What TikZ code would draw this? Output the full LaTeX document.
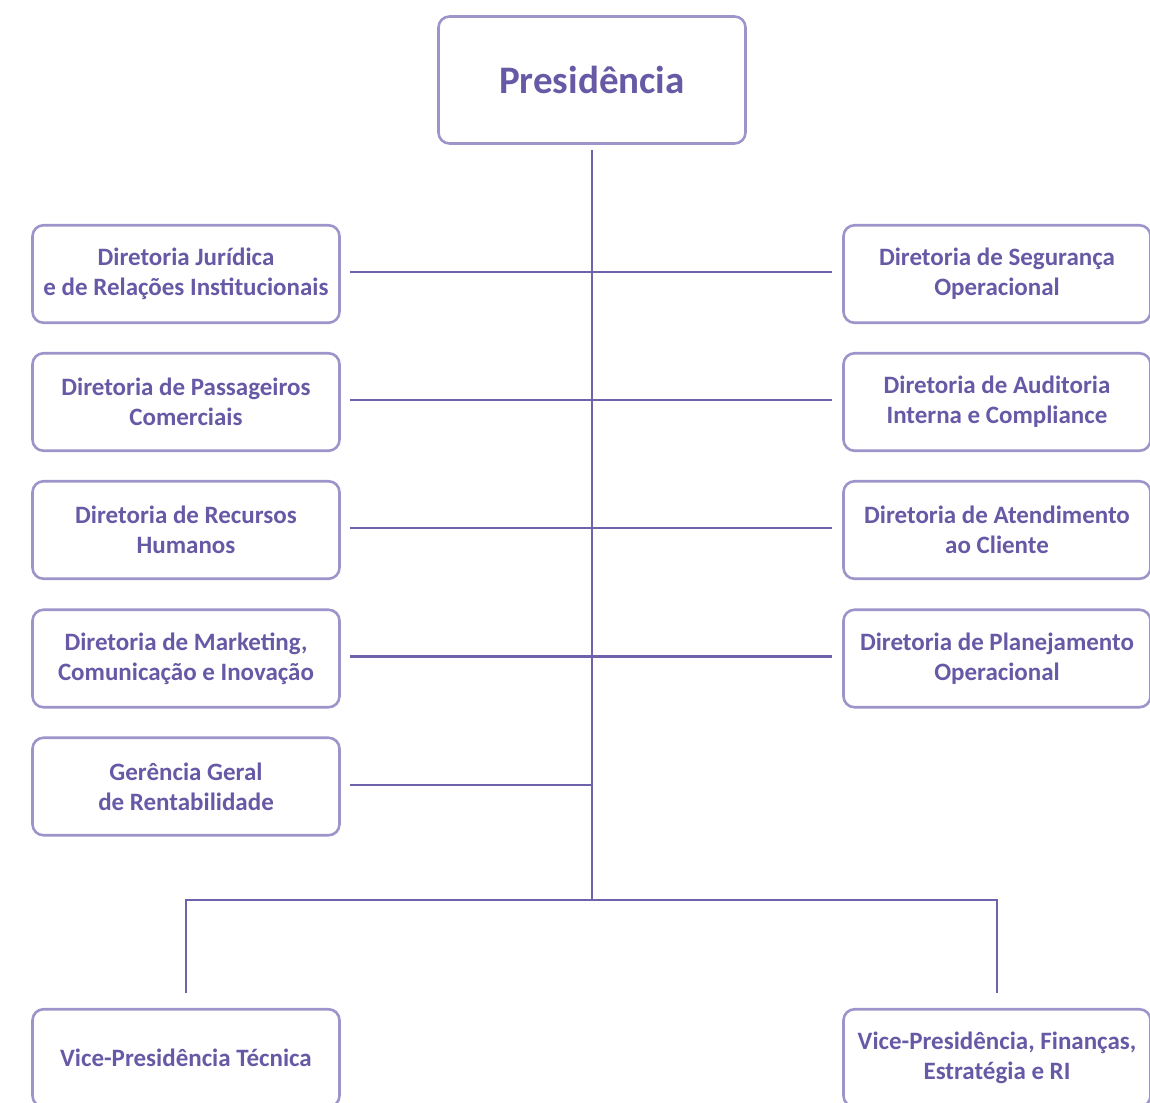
\documentclass[tikz,border=0pt]{standalone}
\usepackage{fontspec}
\setmainfont{Carlito}
\definecolor{txt}{HTML}{6759A5}
\definecolor{bord}{HTML}{9D95CA}
\definecolor{ln}{HTML}{6E62AA}
\begin{document}
\begin{tikzpicture}[x=1pt,y=-1pt,
  box/.style={draw=bord, line width=2.6pt, rounded corners=11pt, text=txt,
    font=\bfseries\fontsize{25}{30}\selectfont, align=center, inner sep=0pt,
    minimum width=307pt, minimum height=97.5pt},
  conn/.style={draw=ln, line width=2.8pt}]
\useasboundingbox (0,0) rectangle (1150,1102);
\node[box, minimum height=127pt, font=\bfseries\fontsize{39}{42}\selectfont] (P) at (592,80) {Presidência};
\node[box] (L1) at (186,274) {Diretoria Jurídica\\e de Relações Institucionais};
\node[box] (L2) at (186,402) {Diretoria de Passageiros\\Comerciais};
\node[box] (L3) at (186,530) {Diretoria de Recursos\\Humanos};
\node[box] (L4) at (186,658.5) {Diretoria de Marketing,\\Comunicação e Inovação};
\node[box] (L5) at (186,786.5) {Gerência Geral\\de Rentabilidade};
\node[box] (R1) at (997,274) {Diretoria de Segurança\\Operacional};
\node[box] (R2) at (997,402) {Diretoria de Auditoria\\Interna e Compliance};
\node[box] (R3) at (997,530) {Diretoria de Atendimento\\ao Cliente};
\node[box] (R4) at (997,658.5) {Diretoria de Planejamento\\Operacional};
\node[box] (V1) at (186,1058) {Vice-Presidência Técnica};
\node[box] (V2) at (997,1058) {Vice-Presidência, Finanças,\\Estratégia e RI};
\coordinate (top) at (592,150);
\coordinate (bot) at (592,900);
\draw[conn] (top) -- (bot);
\draw[conn] ([xshift=9pt,yshift=2pt]L1.east) -- ([xshift=-10pt,yshift=2pt]R1.west);
\draw[conn] ([xshift=9pt,yshift=2pt]L2.east) -- ([xshift=-10pt,yshift=2pt]R2.west);
\draw[conn] ([xshift=9pt,yshift=2pt]L3.east) -- ([xshift=-10pt,yshift=2pt]R3.west);
\draw[conn] ([xshift=9pt,yshift=2pt]L4.east) -- ([xshift=-10pt,yshift=2pt]R4.west);
\draw[conn] ([xshift=9pt,yshift=1.5pt]L5.east) -- ([yshift=1.5pt]L5.east -| bot);
\draw[conn] ([yshift=15pt]V1.north) -- (V1.north |- bot) -- (V2.north |- bot) -- ([yshift=15pt]V2.north);
\end{tikzpicture}
\end{document}
